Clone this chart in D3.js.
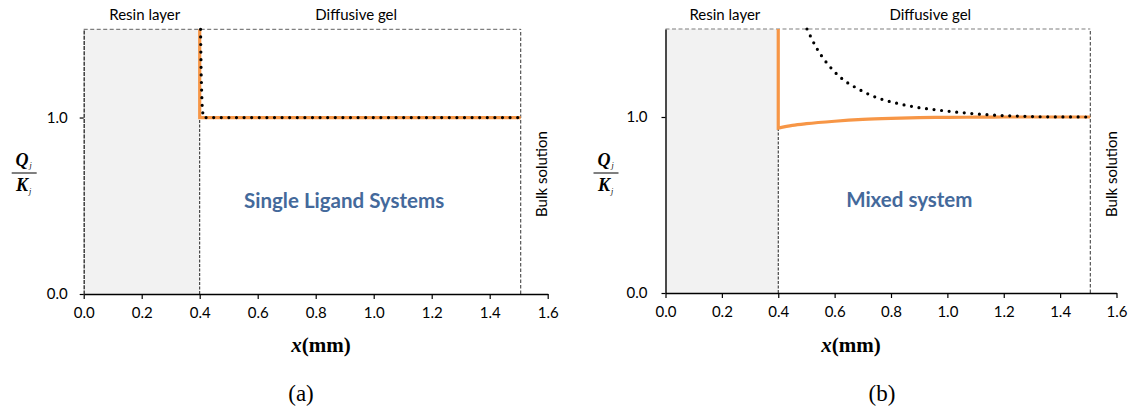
<!DOCTYPE html>
<html>
<head>
<meta charset="utf-8">
<script src="https://cdn.jsdelivr.net/npm/d3@7"></script>
<style>
  html, body { margin: 0; padding: 0; background: #fff; }
  svg { display: block; }
  .sans { font-family: Lato, "Open Sans", sans-serif; }
  .serif { font-family: "Liberation Serif", "Times New Roman", serif; }
</style>
</head>
<body>
<svg id="chart" width="1131" height="414"></svg>
<script>
// Axis ticks and domain limits
const xTicks = [0, 0.2, 0.4, 0.6, 0.8, 1.0, 1.2, 1.4, 1.6];
const yTicks = [0, 1.0];
const yMax = 1.5;
const resinEdge = 0.4;   // resin / gel interface (mm)
const bulkEdge = 1.507;  // gel / bulk solution interface (mm)

// Panel (a): single ligand systems
const singleOrangeX = [0.4, 0.4, 1.507];
const singleOrangeY = [1.5, 1.0, 1.0];
const singleDotX = [0.403, 0.405, 0.408, 0.412, 1.507];
const singleDotY = [1.5, 1.25, 1.08, 1.0, 1.0];

// Panel (b): mixed system
const mixedOrangeX = [0.4, 0.4, 0.45, 0.5, 0.6, 0.7, 0.8, 0.9, 1.0, 1.1, 1.2, 1.507];
const mixedOrangeY = [1.5, 0.937, 0.952, 0.962, 0.976, 0.986, 0.992, 0.996, 0.998, 0.999, 1.0, 1.0];
const mixedDotX = [0.502, 0.54, 0.567, 0.596, 0.632, 0.673, 0.75, 0.821, 0.892, 0.963, 1.05, 1.15, 1.25, 1.35, 1.507];
const mixedDotY = [1.5, 1.381, 1.318, 1.263, 1.21, 1.169, 1.11, 1.078, 1.055, 1.04, 1.025, 1.012, 1.005, 1.001, 1.0];

const zip = (xs, ys) => xs.map((x, i) => [x, ys[i]]);

const svg = d3.select("#chart");
svg.append("rect").attr("width", 1131).attr("height", 414).attr("fill", "#fff");

const panels = [
  {
    left: 83.7, right: 547.7, top: 29.3, bottom: 294,
    orange: zip(singleOrangeX, singleOrangeY), orangeBend: false,
    dots: zip(singleDotX, singleDotY),
    title: "Single Ligand Systems", titleX: 0.898, titleY: 0.53, titleSize: 20.5,
    axisDash: "4,1.2", yPad: 12,
    xLabelX: 321, tagX: 301, tag: "(a)"
  },
  {
    left: 665.5, right: 1116.5, top: 29, bottom: 293,
    orange: zip(mixedOrangeX, mixedOrangeY), orangeBend: true,
    dots: zip(mixedDotX, mixedDotY),
    title: "Mixed system", titleX: 0.865, titleY: 0.53, titleSize: 20.5,
    axisDash: null, yPad: 14,
    xLabelX: 851, tagX: 882, tag: "(b)"
  }
];

panels.forEach(p => {
  const x = d3.scaleLinear().domain([0, 1.6]).range([p.left, p.right]);
  const y = d3.scaleLinear().domain([0, yMax]).range([p.bottom, p.top]);
  const g = svg.append("g");

  // Resin layer shading
  g.append("rect")
    .attr("x", x(0)).attr("y", y(yMax))
    .attr("width", x(resinEdge) - x(0)).attr("height", y(0) - y(yMax))
    .attr("fill", "#f2f2f2");

  // Top border of the domain
  g.append("line")
    .attr("x1", x(0)).attr("x2", x(bulkEdge))
    .attr("y1", y(yMax)).attr("y2", y(yMax))
    .attr("stroke", "#7f7f7f").attr("stroke-width", 1.2)
    .attr("stroke-dasharray", "4,2.5");

  // Resin / gel interface
  g.append("line")
    .attr("x1", x(resinEdge)).attr("x2", x(resinEdge))
    .attr("y1", y(0)).attr("y2", y(yMax))
    .attr("stroke", "#222").attr("stroke-width", 1)
    .attr("stroke-dasharray", "3,1.5");

  // Gel / bulk interface
  g.append("line")
    .attr("x1", x(bulkEdge)).attr("x2", x(bulkEdge))
    .attr("y1", y(0)).attr("y2", y(yMax))
    .attr("stroke", "#333").attr("stroke-width", 1)
    .attr("stroke-dasharray", "3.5,2");

  // Orange profile
  const linear = d3.line().x(d => x(d[0])).y(d => y(d[1]));
  const smooth = d3.line().x(d => x(d[0])).y(d => y(d[1])).curve(d3.curveMonotoneX);
  let dOrange;
  if (p.orangeBend) {
    dOrange = linear(p.orange.slice(0, 2)) + smooth(p.orange.slice(1)).replace(/^M/, "L");
  } else {
    dOrange = linear(p.orange);
  }
  g.append("path")
    .attr("d", dOrange)
    .attr("fill", "none")
    .attr("stroke", "#f79646").attr("stroke-width", 3.2)
    .attr("stroke-linejoin", "miter");

  // Dotted profile
  const dotLine = p.orangeBend ? smooth : linear;
  g.append("path")
    .attr("d", dotLine(p.dots))
    .attr("fill", "none")
    .attr("stroke", "#000").attr("stroke-width", 3.2)
    .attr("stroke-linecap", "round")
    .attr("stroke-dasharray", "0,7.6");

  // Axes
  const xAxis = d3.axisBottom(x).tickValues(xTicks)
    .tickFormat(d3.format(".1f")).tickSize(5).tickSizeOuter(0).tickPadding(8);
  const gx = g.append("g").attr("transform", `translate(0,${y(0)})`).call(xAxis);
  gx.select(".domain").attr("stroke", "#000").attr("stroke-width", 1.4);
  gx.selectAll(".tick line").attr("stroke", "#000").attr("stroke-width", 1.2);
  gx.selectAll("text").attr("class", "sans").attr("font-size", 15).attr("fill", "#000");

  const yAxis = d3.axisLeft(y).tickValues(yTicks)
    .tickFormat(d3.format(".1f")).tickSize(4).tickSizeOuter(0).tickPadding(p.yPad);
  const gy = g.append("g").attr("transform", `translate(${x(0)},0)`).call(yAxis);
  gy.select(".domain").attr("stroke", p.axisDash ? "#333" : "#000")
    .attr("stroke-width", 1.4)
    .attr("stroke-dasharray", p.axisDash);
  gy.selectAll(".tick line").attr("stroke", "#000").attr("stroke-width", 1.2);
  gy.selectAll("text").attr("class", "sans").attr("font-size", 15).attr("fill", "#000");

  // Region labels above the plot
  g.append("text").attr("class", "sans")
    .attr("x", (x(0) + x(resinEdge)) / 2 + 3).attr("y", 20)
    .attr("text-anchor", "middle").attr("font-size", 15)
    .text("Resin layer");
  g.append("text").attr("class", "sans")
    .attr("x", (x(resinEdge) + x(bulkEdge)) / 2 - 4).attr("y", 20)
    .attr("text-anchor", "middle").attr("font-size", 15)
    .text("Diffusive gel");

  // Bulk solution, rotated
  const bx = x(bulkEdge) + 21, by = 174;
  g.append("text").attr("class", "sans")
    .attr("transform", `translate(${bx},${by}) rotate(-90)`)
    .attr("text-anchor", "middle").attr("dy", "0.35em")
    .attr("font-size", 15)
    .text("Bulk solution");

  // System title
  g.append("text").attr("class", "sans")
    .attr("x", x(p.titleX)).attr("y", y(p.titleY))
    .attr("text-anchor", "middle").attr("dy", "0.35em")
    .attr("font-size", p.titleSize).attr("font-weight", "bold").attr("fill", "#44699b")
    .text(p.title);

  // Y label: Q_j / K_j
  const fx = x(0) - 60;
  const q = g.append("text").attr("class", "serif")
    .attr("x", fx).attr("y", 166).attr("text-anchor", "middle")
    .attr("font-size", 18).attr("font-weight", "bold").attr("font-style", "italic");
  q.append("tspan").text("Q");
  q.append("tspan").attr("font-size", 8).attr("font-weight", "normal").attr("dx", 1).attr("dy", 2).text("j");
  g.append("line")
    .attr("x1", x(0) - 72).attr("x2", x(0) - 47)
    .attr("y1", 173).attr("y2", 173)
    .attr("stroke", "#000").attr("stroke-width", 1);
  const k = g.append("text").attr("class", "serif")
    .attr("x", fx).attr("y", 191).attr("text-anchor", "middle")
    .attr("font-size", 18).attr("font-weight", "bold").attr("font-style", "italic");
  k.append("tspan").text("K");
  k.append("tspan").attr("font-size", 8).attr("font-weight", "normal").attr("dx", 1).attr("dy", 3).text("j");

  // X label
  const xl = g.append("text").attr("class", "serif")
    .attr("x", p.xLabelX).attr("y", 352).attr("text-anchor", "middle")
    .attr("font-size", 21).attr("font-weight", "bold");
  xl.append("tspan").attr("font-style", "italic").text("x");
  xl.append("tspan").text("(mm)");

  // Panel tag
  g.append("text").attr("class", "serif")
    .attr("x", p.tagX).attr("y", 401).attr("text-anchor", "middle")
    .attr("font-size", 23)
    .text(p.tag);
});
</script>
</body>
</html>
